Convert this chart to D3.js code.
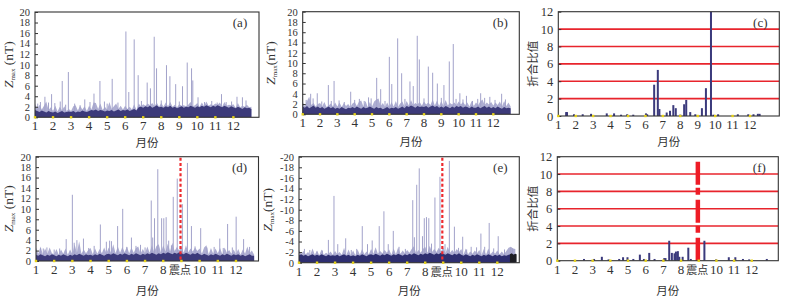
<!DOCTYPE html>
<html>
<head>
<meta charset="utf-8">
<script src="https://cdn.jsdelivr.net/npm/d3@7"></script>
<style>
  body { margin: 0; background: #fff; }
  svg text { fill: #333; }
</style>
</head>
<body>
<svg id="chart" width="788" height="300"></svg>
<script>
// ---- data ----
const months = [1, 2, 3, 4, 5, 6, 7, 8, 9, 10, 11, 12];
const topTickLabels = ["1", "2", "3", "4", "5", "6", "7", "8", "9", "10", "11", "12"];
const bottomTickMonths = [1, 2, 3, 4, 5, 6, 7, 8, 10, 11, 12];
const bottomTickLabels = ["1", "2", "3", "4", "5", "6", "7", "8", "10", "11", "12"];
const quakeLabel = "震点";
const quakeMonth = 8.95;

const zTicks = [0, 2, 4, 6, 8, 10, 12, 14, 16, 18, 20];
const zTickLabels = ["0", "2", "4", "6", "8", "10", "12", "14", "16", "18", "20"];
const zNegTickLabels = ["0", "-2", "-4", "-6", "-8", "-10", "-12", "-14", "-16", "-18", "-20"];
const ratioTicks = [0, 2, 4, 6, 8, 10, 12];
const ratioTickLabels = ["0", "2", "4", "6", "8", "10", "12"];
const ratioGrid = [2, 4, 6, 8, 10];

// dense background band, 8 samples per month (month 1 .. 13)
const aDark = [1.4,1.2,1.0,1.3,1.1,0.9,1.2,1.0, 0.9,1.1,0.8,1.0,1.2,0.9,1.0,1.1, 1.0,1.2,0.9,1.1,1.0,1.3,1.1,1.0,
  1.2,1.4,1.3,1.5,1.2,1.4,1.3,1.1, 1.3,1.2,1.4,1.1,1.3,1.5,1.2,1.4, 1.3,1.5,1.2,1.4,1.6,1.3,1.9,2.0,
  1.8,2.1,1.9,2.2,1.8,2.0,2.3,1.9, 2.0,1.8,2.1,1.9,2.2,1.8,2.0,1.7, 1.9,2.1,1.8,2.0,1.9,2.2,2.0,1.8,
  2.1,1.9,2.2,2.0,2.3,2.1,1.9,2.2, 2.0,2.3,2.1,1.9,2.2,2.0,1.8,2.1, 1.9,1.7,2.0,1.8,1.6,1.9,1.7,1.8, 1.6];
const aLight = [2.6,1.6,2.4,1.5,2.2,3.0,1.4,1.9, 1.2,2.2,1.1,2.0,1.3,2.1,1.2,1.6, 1.2,2.1,2.3,1.3,2.2,1.5,2.1,1.2,
  2.2,1.5,2.8,2.7,1.6,2.6,1.4,2.0, 1.5,2.9,1.6,2.1,2.6,1.6,2.2,1.5, 2.2,1.6,2.0,1.5,2.5,1.4,2.6,2.1,
  2.5,2.2,2.6,2.3,2.7,2.1,2.8,2.0, 2.7,2.0,2.8,2.1,2.9,2.0,2.4,1.9, 2.5,2.2,2.3,2.1,2.4,2.9,2.1,2.3,
  2.7,2.0,2.8,2.1,3.0,2.2,2.5,2.3, 2.6,2.4,2.8,2.0,2.9,2.2,2.4,2.3, 2.5,1.8,2.7,1.9,2.2,2.0,2.4,1.9, 2.0];
const bDark = [1.5,1.3,1.6,1.2,1.4,1.7,1.3,1.5, 1.2,1.4,1.1,1.3,1.5,1.2,1.4,1.1, 1.3,1.1,1.4,1.2,1.0,1.3,1.2,1.4,
  1.2,1.5,1.3,1.1,1.4,1.2,1.3,1.5, 1.3,1.1,1.4,1.2,1.3,1.0,1.2,1.4, 1.1,1.3,1.2,1.4,1.1,1.3,1.5,1.2,
  1.6,1.4,1.7,1.5,1.3,1.6,1.4,1.5, 1.4,1.6,1.3,1.5,1.7,1.4,1.6,1.3, 1.5,1.3,1.6,1.4,1.2,1.5,1.3,1.6,
  1.4,1.6,1.3,1.5,1.4,1.2,1.5,1.3, 1.3,1.5,1.2,1.4,1.6,1.3,1.5,1.2, 1.4,1.2,1.5,1.3,1.1,1.4,1.2,1.3, 1.2];
const bLight = [2.4,1.6,2.6,3.4,1.8,2.2,1.5,2.0, 2.2,1.5,2.4,1.4,1.7,2.1,1.5,2.3, 1.5,2.3,1.4,2.2,1.6,2.0,1.4,2.1,
  2.4,1.6,2.5,2.7,1.5,2.6,1.4,2.4, 1.5,2.5,2.9,3.1,1.6,2.2,1.4,2.3, 1.4,2.4,1.5,2.6,1.4,2.1,2.5,1.5,
  2.6,1.7,2.8,1.8,2.2,1.9,2.4,1.7, 2.5,1.9,2.3,1.8,2.9,1.7,2.7,1.6, 2.6,1.6,2.8,1.7,2.2,1.9,2.3,1.8,
  2.5,1.9,2.4,1.8,2.3,1.5,2.6,1.6, 2.3,1.8,2.5,2.9,1.8,2.3,1.9,2.4, 1.7,2.3,1.8,2.5,1.5,2.6,1.6,2.3, 1.5];
const dDark = [1.2,1.0,1.3,1.1,0.9,1.2,1.0,1.3, 1.1,0.9,1.2,1.0,1.3,1.1,0.9,1.2, 1.0,1.3,1.1,1.4,1.2,1.0,1.3,1.1,
  1.2,1.0,1.3,1.1,1.4,1.2,1.0,1.3, 1.4,1.2,1.5,1.3,1.1,1.4,1.2,1.5, 1.3,1.1,1.4,1.2,1.5,1.3,1.1,1.4,
  1.2,1.5,1.3,1.6,1.4,1.2,1.5,1.3, 1.6,1.4,1.7,1.5,1.3,1.6,1.4,1.7, 1.5,1.3,1.6,1.4,1.2,1.5,1.3,1.6,
  1.3,1.1,1.4,1.2,1.0,1.3,1.1,1.4, 1.2,1.0,1.3,1.1,1.4,1.2,1.0,1.3, 1.1,1.3,1.0,1.2,0.9,1.1,1.3,1.0, 1.0];
const dLight = [2.6,1.4,2.8,1.3,2.4,1.4,2.6,1.5, 1.3,2.3,1.2,2.2,1.4,2.4,1.2,2.2, 1.3,3.2,1.5,3.8,1.4,2.2,1.5,2.1,
  2.5,1.3,2.4,1.4,2.3,1.5,2.6,1.5, 2.6,1.6,3.2,1.5,2.8,1.6,2.7,1.7, 2.8,1.5,2.6,1.6,2.5,2.8,1.4,2.3,
  1.5,2.8,1.6,3.0,1.7,2.9,3.2,1.6, 3.0,1.8,3.3,1.8,3.5,1.9,2.7,2.0, 2.8,1.6,3.0,1.7,2.4,1.8,2.6,1.9,
  2.4,1.4,2.6,3.0,1.3,2.5,1.4,2.4, 1.5,2.5,1.3,2.6,1.6,2.1,1.4,2.2, 1.3,2.3,1.2,2.2,1.4,2.8,1.5,2.0, 1.2];
const eDark = [1.4,1.6,1.3,1.5,1.2,1.4,1.6,1.3, 1.5,1.3,1.6,1.4,1.2,1.5,1.3,1.4, 1.3,1.5,1.2,1.4,1.6,1.3,1.5,1.2,
  1.4,1.2,1.5,1.3,1.6,1.4,1.2,1.5, 1.6,1.4,1.7,1.5,1.3,1.6,1.4,1.7, 1.5,1.3,1.6,1.4,1.7,1.5,1.3,1.6,
  1.4,1.7,1.5,1.8,1.6,1.4,1.7,1.5, 1.8,1.6,1.9,1.7,1.5,1.8,1.6,1.9, 1.7,1.5,1.8,1.6,1.4,1.7,1.5,1.8,
  1.5,1.3,1.6,1.4,1.2,1.5,1.3,1.6, 1.4,1.2,1.5,1.3,1.6,1.4,1.2,1.5, 1.3,1.5,1.2,1.4,1.3,1.5,1.6,1.5, 1.5];
const eLight = [2.4,1.7,2.2,1.6,2.0,1.5,2.7,1.5, 2.3,1.4,2.5,1.5,1.9,1.6,2.1,1.5, 2.2,1.6,2.0,1.5,2.8,1.4,2.5,1.4,
  2.3,1.4,2.5,1.5,2.6,1.6,2.1,1.6, 2.6,1.7,2.9,1.7,2.2,1.8,2.4,1.9, 2.5,1.5,2.7,1.6,2.9,1.7,2.3,1.8,
  2.4,1.9,2.6,3.1,1.8,2.4,1.9,2.6, 3.0,1.9,3.2,2.0,2.6,2.0,2.8,2.1, 2.9,1.8,3.0,1.9,2.4,1.9,2.6,2.0,
  2.6,1.5,2.7,1.6,2.1,1.7,2.3,1.8, 2.4,1.4,2.6,1.5,2.7,1.6,2.1,1.7, 2.3,1.6,2.1,1.6,2.2,2.8,3.0,2.7, 2.6];
const eTail = [[12.7, 1.6], [12.8, 1.8], [12.9, 1.5], [13.0, 1.7], [13.07, 1.6]];

// spikes [month, value]
const aSpikes = [[1.15,2.6],[1.3,2.9],[1.55,3.9],[1.75,2.8],[1.92,4.4],[2.1,2.7],[2.4,3.0],[2.51,6.9],[2.7,2.4],
  [2.85,8.6],[3.2,2.6],[3.5,2.3],[3.76,3.4],[4.05,2.9],[4.27,4.5],[4.6,6.9],[4.85,3.0],[5.0,2.6],[5.28,7.3],
  [5.6,2.8],[6.04,16.3],[6.2,4.8],[6.5,14.8],[6.72,8.0],[6.9,3.1],[7.22,6.6],[7.4,5.5],[7.61,15.3],[7.74,9.3],
  [8.0,3.2],[8.29,9.9],[8.48,7.8],[8.8,6.3],[9.0,3.0],[9.18,5.9],[9.44,10.4],[9.68,9.3],[9.75,7.0],[10.04,3.8],
  [10.4,2.9],[10.8,3.1],[11.1,2.8],[11.34,4.4],[11.6,2.9],[11.9,3.0],[12.2,3.9],[12.5,3.8],[12.7,3.2]];
const bSpikes = [[1.2,2.8],[1.46,4.0],[1.6,3.1],[1.84,4.1],[2.1,2.5],[2.48,5.7],[2.65,2.6],[2.81,6.5],[3.1,2.7],
  [3.4,2.4],[3.77,4.4],[4.0,2.8],[4.27,3.0],[4.55,2.6],[4.8,3.3],[4.95,3.1],[5.27,7.1],[5.5,4.9],[5.75,2.6],
  [6.0,11.2],[6.14,5.9],[6.48,14.8],[6.71,8.0],[6.9,3.0],[7.19,6.4],[7.38,5.5],[7.61,15.3],[7.73,10.7],[8.0,3.1],
  [8.25,9.3],[8.5,8.1],[8.77,6.0],[9.0,3.2],[9.15,5.7],[9.46,10.3],[9.69,13.7],[9.85,3.0],[10.07,4.1],[10.25,2.9],
  [10.45,3.6],[10.8,2.6],[11.1,3.0],[11.27,4.1],[11.5,3.2],[11.8,3.4],[12.1,2.8],[12.48,4.0],[12.7,2.9]];
const dSpikes = [[1.25,2.5],[1.4,2.4],[1.6,2.6],[2.0,2.2],[2.3,2.4],[2.66,4.2],[3.0,12.7],[3.1,3.5],[3.25,4.0],
  [3.61,4.3],[3.9,2.5],[4.2,2.9],[4.54,7.0],[4.87,3.7],[5.05,3.9],[5.15,3.8],[5.49,6.7],[5.77,10.0],[6.0,2.7],
  [6.25,4.5],[6.5,2.9],[6.75,3.1],[7.0,2.6],[7.34,11.6],[7.42,4.5],[7.52,8.2],[7.7,17.6],[7.91,8.2],[8.03,8.2],
  [8.16,8.4],[8.3,3.9],[8.45,3.0],[8.55,12.3],[8.77,15.8],[9.05,10.9],[9.33,18.8],[9.55,6.7],[9.75,2.8],
  [10.06,6.3],[10.4,2.6],[10.8,2.7],[11.11,4.3],[11.3,2.5],[11.54,7.1],[11.8,2.6],[12.01,8.5],[12.42,4.2],[12.75,2.7]];
const eSpikes = [[1.3,2.6],[1.6,2.4],[2.0,2.1],[2.3,2.3],[2.63,4.3],[2.94,12.6],[3.15,3.5],[3.59,4.6],[3.9,2.4],
  [4.2,2.6],[4.51,6.9],[4.8,3.5],[5.06,4.2],[5.45,6.9],[5.71,9.7],[5.95,3.5],[6.23,6.0],[6.55,3.0],[6.9,2.6],
  [7.31,11.8],[7.4,4.8],[7.53,14.7],[7.67,17.8],[7.85,5.0],[7.95,8.4],[8.07,8.6],[8.2,8.4],[8.35,3.6],[8.54,12.3],
  [8.82,16.2],[9.1,3.5],[9.34,19.2],[9.62,6.8],[9.85,2.8],[10.08,4.9],[10.3,2.5],[10.55,3.0],[10.85,2.9],
  [11.09,5.5],[11.3,3.0],[11.55,7.5],[11.8,2.7],[12.05,5.0],[12.4,2.5],[12.75,2.8],[12.85,2.7]];

// ratio bars [month, value]
const cBars = [[1.45,0.45],[1.5,0.45],[1.9,0.2],[2.4,0.2],[2.88,0.25],[3.78,0.3],[4.2,0.3],[4.6,0.15],[4.95,0.2],
  [5.3,0.15],[6.03,0.3],[6.1,0.2],[6.5,3.6],[6.71,5.3],[6.8,0.8],[7.22,0.4],[7.41,0.6],[7.6,1.25],[7.74,0.9],
  [8.0,0.15],[8.22,1.35],[8.34,1.85],[8.57,0.45],[8.86,0.2],[9.24,0.9],[9.47,3.2],[9.76,12.5],[9.9,0.15],
  [10.17,0.2],[11.3,0.2],[11.9,0.2],[12.2,0.2],[12.45,0.25],[12.55,0.25]];
const fBars = [[2.51,0.2],[3.08,0.2],[3.52,0.45],[3.9,0.15],[4.5,0.2],[4.72,0.4],[4.97,0.4],[5.3,0.2],[5.67,0.7],
  [5.9,0.2],[6.2,0.9],[6.5,0.2],[7.05,0.3],[7.12,0.3],[7.33,2.3],[7.48,0.9],[7.63,0.85],[7.71,1.05],[7.82,1.1],
  [7.9,0.45],[8.09,0.45],[8.41,1.5],[8.55,0.2],[9.32,2.3],[9.98,0.15],[10.7,0.4],[11.07,0.4],[11.5,0.2],
  [11.85,0.15],[12.85,0.2]];

// ---- layout ----
const panels = [
  { id: "a", kind: "z", left: 35, right: 259, top: 12, bottom: 117.3, xEnd: 13.42, dark: aDark, light: aLight, spikes: aSpikes,
    yLabels: zTickLabels, ylabX: 13, xlabY: 146.5, quake: false },
  { id: "b", kind: "z", left: 302.7, right: 519.3, top: 11.7, bottom: 114.3, xEnd: 13.5, dark: bDark, light: bLight, spikes: bSpikes,
    yLabels: zTickLabels, ylabX: 275, xlabY: 146, quake: false, tight: true },
  { id: "c", kind: "r", left: 558.3, right: 779.3, top: 11.7, bottom: 116, xEnd: 13.68, bars: cBars,
    ylabX: 537, xlabY: 146, quake: false },
  { id: "d", kind: "z", left: 36, right: 258.5, top: 156.7, bottom: 261, xEnd: 13.24, dark: dDark, light: dLight, spikes: dSpikes,
    yLabels: zTickLabels, ylabX: 13, xlabY: 295, quake: "dot" },
  { id: "e", kind: "z", left: 299, right: 519.3, top: 156.7, bottom: 262.7, xEnd: 13.22, dark: eDark, light: eLight, spikes: eSpikes,
    yLabels: zNegTickLabels, ylabX: 272, xlabY: 295, quake: "dot", tail: eTail, tight: true },
  { id: "f", kind: "r", left: 557.3, right: 778.3, top: 156.7, bottom: 260.7, xEnd: 13.5, bars: fBars,
    ylabX: 537, xlabY: 295, quake: "dash" }
];

const SERIF = "'Liberation Serif', 'Times New Roman', serif";
const CJK = "'Noto Sans CJK SC', sans-serif";
const svg = d3.select("#chart");
const defs = svg.append("defs");

panels.forEach(p => {
  const isZ = p.kind === "z";
  const x = d3.scaleLinear().domain([1, p.xEnd]).range([p.left, p.right]);
  const y = d3.scaleLinear().domain([0, isZ ? 20 : 12]).range([p.bottom, p.top]);
  const g = svg.append("g");

  defs.append("clipPath").attr("id", "clip-" + p.id)
    .append("rect")
    .attr("x", p.left).attr("y", p.top)
    .attr("width", p.right - p.left).attr("height", p.bottom - p.top);
  const plot = g.append("g").attr("clip-path", `url(#clip-${p.id})`);

  if (isZ) {
    const area = d3.area()
      .x((d, i) => x(1 + i / 8))
      .y0(y(0))
      .y1(d => y(d));
    plot.append("path").datum(p.light).attr("d", area).attr("fill", "#aeaed2");
    plot.selectAll(".spike").data(p.spikes).join("line")
      .attr("class", "spike")
      .attr("x1", d => x(d[0])).attr("x2", d => x(d[0]))
      .attr("y1", y(0)).attr("y2", d => y(d[1]))
      .attr("stroke", "#a2a2ca").attr("stroke-width", 1);
    plot.append("path").datum(p.dark).attr("d", area).attr("fill", p.id === "e" ? "#2e2e70" : "#3c3a7a");
    if (p.tail) {
      plot.append("path").datum(p.tail)
        .attr("d", d3.area().x(d => x(d[0])).y0(y(0)).y1(d => y(d[1])))
        .attr("fill", "#1e1e24");
    }
  } else {
    plot.selectAll(".grid").data(ratioGrid).join("line")
      .attr("class", "grid")
      .attr("x1", p.left).attr("x2", p.right)
      .attr("y1", d => y(d)).attr("y2", d => y(d))
      .attr("stroke", "#e8242c").attr("stroke-width", 1.6);
    plot.selectAll(".bar").data(p.bars).join("rect")
      .attr("class", "bar")
      .attr("x", d => x(d[0]) - 1).attr("width", 2)
      .attr("y", d => y(d[1])).attr("height", d => y(0) - y(d[1]))
      .attr("fill", "#3b3a7c");
  }

  // earthquake marker
  if (p.quake === "dot") {
    g.append("line")
      .attr("x1", x(quakeMonth)).attr("x2", x(quakeMonth))
      .attr("y1", p.top + 1).attr("y2", p.bottom)
      .attr("stroke", "#ee2a2e").attr("stroke-width", 2.2)
      .attr("stroke-dasharray", "3,2.2");
  } else if (p.quake === "dash") {
    g.append("line")
      .attr("x1", x(quakeMonth)).attr("x2", x(quakeMonth))
      .attr("y1", p.top + 5).attr("y2", p.bottom)
      .attr("stroke", "#ee1c26").attr("stroke-width", 4.5)
      .attr("stroke-dasharray", "23,3,7,5");
  }

  // frame
  g.append("rect")
    .attr("x", p.left).attr("y", p.top)
    .attr("width", p.right - p.left).attr("height", p.bottom - p.top)
    .attr("fill", "none").attr("stroke", "#333").attr("stroke-width", 1.1);

  // y axis
  const yTicks = isZ ? zTicks : ratioTicks;
  const yLabels = isZ ? p.yLabels : ratioTickLabels;
  const yAxis = d3.axisLeft(y).tickValues(yTicks).tickSize(-3).tickPadding(5)
    .tickFormat((d, i) => yLabels[i]);
  const ya = g.append("g").attr("transform", `translate(${p.left},0)`).call(yAxis);
  ya.select(".domain").remove();
  ya.selectAll("line").attr("stroke", "#333");
  ya.selectAll("text").style("font-family", SERIF)
    .style("font-size", isZ ? "10.5px" : "12.5px").attr("fill", "#333");

  // x ticks: yellow markers on the axis
  g.selectAll(".xdot").data(months).join("rect")
    .attr("class", "xdot")
    .attr("x", d => x(d) - 1.2).attr("y", p.bottom - 1.2)
    .attr("width", 2.4).attr("height", 2.4)
    .attr("fill", "#e6d21a");

  const tickMonths = p.quake ? bottomTickMonths : months;
  const tickLabels = p.quake ? bottomTickLabels : topTickLabels;
  g.selectAll(".xlab").data(tickMonths).join("text")
    .attr("class", "xlab")
    .attr("x", d => x(d)).attr("y", p.bottom + 13)
    .attr("text-anchor", "middle")
    .style("font-family", SERIF).style("font-size", "13px")
    .text((d, i) => tickLabels[i]);
  if (p.quake) {
    g.append("text")
      .attr("x", x(quakeMonth) - 0.5).attr("y", p.bottom + 13)
      .attr("text-anchor", "middle")
      .style("font-family", CJK).style("font-size", "11px")
      .text(quakeLabel);
  }

  // axis titles
  g.append("text")
    .attr("x", (p.left + p.right) / 2).attr("y", p.xlabY)
    .attr("text-anchor", "middle")
    .style("font-family", CJK).style("font-size", "11.5px")
    .text("月份");

  const yc = (p.top + p.bottom) / 2;
  if (isZ) {
    const t = g.append("text")
      .attr("transform", `translate(${p.ylabX},${yc}) rotate(-90)`)
      .attr("text-anchor", "middle")
      .style("font-family", SERIF).style("font-size", "13.5px");
    t.append("tspan").style("font-style", "italic").text("Z");
    t.append("tspan").attr("dy", 2).style("font-size", "7px").text("max");
    t.append("tspan").attr("dy", -2).text(p.tight ? "(nT)" : " (nT)");
  } else {
    g.append("text")
      .attr("transform", `translate(${p.ylabX},${yc}) rotate(-90)`)
      .attr("text-anchor", "middle")
      .style("font-family", CJK).style("font-size", "11.5px")
      .text("折合比值");
  }

  // panel tag
  g.append("text")
    .attr("x", p.right - 19).attr("y", p.top + 15)
    .attr("text-anchor", "middle")
    .style("font-family", SERIF).style("font-size", "13px")
    .text(`(${p.id})`);
});
</script>
</body>
</html>
